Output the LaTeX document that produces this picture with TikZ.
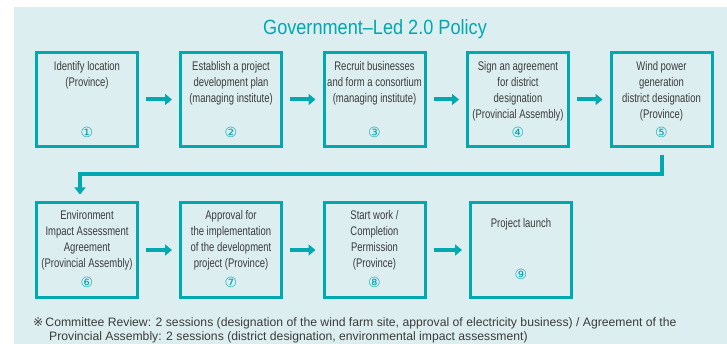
\documentclass[tikz,border=0pt]{standalone}
\usepackage{fontspec}
\setmainfont{Liberation Sans}
\newfontfamily\boxfont[FakeStretch=0.76]{Liberation Sans}
\newfontfamily\titlefont[FakeStretch=0.88]{Liberation Sans}
\newfontfamily\symfont{DejaVu Sans}
\usetikzlibrary{arrows.meta}
\definecolor{policyteal}{RGB}{0,168,176}
\definecolor{policybg}{RGB}{220,238,240}
\definecolor{policytext}{RGB}{60,60,60}

\begin{document}
\begin{tikzpicture}[x=1pt, y=-1pt,
  stepbox/.style={shape=rectangle, draw=policyteal, line width=3pt, minimum width=101pt, minimum height=94pt, inner sep=0pt},
  steptext/.style={anchor=north, align=center, inner sep=0pt, text=policytext, font=\boxfont\fontsize{12.5}{16}\selectfont},
  stepnum/.style={inner sep=0pt, text=policyteal, font=\symfont\fontsize{14}{15}\selectfont},
  flow/.style={draw=policyteal, line width=4pt, -{Triangle[length=7pt, width=11pt]}, shorten <=7pt, shorten >=7pt}]
\useasboundingbox (0,0) rectangle (727,344);
\fill[policybg] (14,7) rectangle (727,344);
\node[text=policyteal, font=\titlefont\fontsize{20.6}{24}\selectfont] (title) at (375,29) {Government\textendash Led 2.0 Policy};
% first row
\node[stepbox] (s1) at (87,99.5) {};
\node[stepbox] (s2) at (231,99.5) {};
\node[stepbox] (s3) at (374.5,99.5) {};
\node[stepbox] (s4) at (518,99.5) {};
\node[stepbox] (s5) at (661.5,99.5) {};
\node[steptext] (t1) at (87,61.5) {Identify location\\(Province)};
\node[steptext] (t2) at (231,61.5) {Establish a project\\development plan\\(managing institute)};
\node[steptext] (t3) at (374.5,61.5) {Recruit businesses\\and form a consortium\\(managing institute)};
\node[steptext] (t4) at (518,61.5) {Sign an agreement\\for district\\designation\\(Provincial Assembly)};
\node[steptext] (t5) at (661.5,61.5) {Wind power\\generation\\district designation\\(Province)};
\node[stepnum] (n1) at (87,132) {①};
\node[stepnum] (n2) at (231,132) {②};
\node[stepnum] (n3) at (374.5,132) {③};
\node[stepnum] (n4) at (518,132) {④};
\node[stepnum] (n5) at (661.5,132) {⑤};
% second row
\node[stepbox] (s6) at (87,250) {};
\node[stepbox] (s7) at (231,250) {};
\node[stepbox] (s8) at (374.5,250) {};
\node[stepbox] (s9) at (521,250) {};
\node[steptext] (t6) at (87,210.5) {Environment\\Impact Assessment\\Agreement\\(Provincial Assembly)};
\node[steptext] (t7) at (231,210.5) {Approval for\\the implementation\\of the development\\project (Province)};
\node[steptext] (t8) at (374.5,210.5) {Start work /\\Completion\\Permission\\(Province)};
\node[steptext] (t9) at (521,218.5) {Project launch};
\node[stepnum] (n6) at (87,282) {⑥};
\node[stepnum] (n7) at (231,282) {⑦};
\node[stepnum] (n8) at (374.5,282) {⑧};
\node[stepnum] (n9) at (521,274) {⑨};
% arrows
\path[flow] (s1) -- (s2);
\path[flow] (s2) -- (s3);
\path[flow] (s3) -- (s4);
\path[flow] (s4) -- (s5);
\path[flow] (s5.south) -- ++(0,26) -| ([xshift=-7pt]s6.north);
\path[flow] (s6) -- (s7);
\path[flow] (s7) -- (s8);
\path[flow] (s8) -- (s9);
% note
\node[anchor=base west, inner sep=0pt, text=policytext, font=\fontsize{12.2}{15}\selectfont] (note1) at (33,326.5) {{\symfont ※}\,Committee Review: 2 sessions (designation of the wind farm site, approval of electricity business) / Agreement of the};
\node[anchor=base west, inner sep=0pt, text=policytext, font=\fontsize{12.2}{15}\selectfont] (note2) at (49,340.5) {Provincial Assembly: 2 sessions (district designation, environmental impact assessment)};
\end{tikzpicture}
\end{document}
